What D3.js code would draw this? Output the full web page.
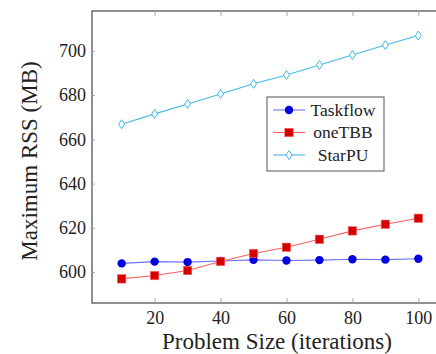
<!DOCTYPE html>
<html>
<head>
<meta charset="utf-8">
<script src="https://cdn.jsdelivr.net/npm/d3@7"></script>
<style>
  body { margin: 0; background: #fff; }
</style>
</head>
<body>
<div id="chart"></div>
<script>
// data
var sizes = [10, 20, 30, 40, 50, 60, 70, 80, 90, 100];
var taskflow = [603.9, 604.7, 604.5, 605.0, 605.5, 605.2, 605.4, 605.8, 605.6, 606.0];
var onetbb = [596.9, 598.4, 600.7, 604.8, 608.4, 611.2, 614.8, 618.6, 621.6, 624.3];
var starpu = [666.8, 671.5, 676.0, 680.5, 685.1, 689.1, 693.6, 698.1, 702.6, 706.9];
var xTicks = [20, 40, 60, 80, 100];
var yTicks = [600, 620, 640, 660, 680, 700];

var serif = "'Liberation Serif', 'Times New Roman', serif";

var svgWidth = 436;
var svgHeight = 354;

var margin = { top: 11, left: 92 };
var width = 356;
var height = 292;

var svg = d3.select("#chart")
  .append("svg")
  .attr("width", svgWidth)
  .attr("height", svgHeight);

var chartGroup = svg.append("g")
  .attr("transform", `translate(${margin.left}, ${margin.top})`);

// scales (pgfplots style 10% enlarged limits)
var xScale = d3.scaleLinear().domain([1, 109]).range([0, width]);
var yScale = d3.scaleLinear().domain([586, 718]).range([height, 0]);

// axes frame
chartGroup.append("rect")
  .attr("width", width)
  .attr("height", height)
  .attr("fill", "none")
  .attr("stroke", "#555")
  .attr("stroke-width", 1.3);

// inner ticks, bottom and top
var bottomAxis = d3.axisBottom(xScale).tickValues(xTicks).tickSize(-5).tickPadding(8);
chartGroup.append("g")
  .attr("transform", `translate(0, ${height})`)
  .call(bottomAxis)
  .call(g => g.select(".domain").remove())
  .call(g => g.selectAll("line").attr("stroke", "#aaa"))
  .call(g => g.selectAll("text").attr("font-size", 18).attr("fill", "#222")
    .style("font-family", serif));

var topAxis = d3.axisTop(xScale).tickValues(xTicks).tickSize(-5).tickFormat("");
chartGroup.append("g")
  .call(topAxis)
  .call(g => g.select(".domain").remove())
  .call(g => g.selectAll("line").attr("stroke", "#aaa"));

var leftAxis = d3.axisLeft(yScale).tickValues(yTicks).tickSize(-3).tickPadding(6);
chartGroup.append("g")
  .call(leftAxis)
  .call(g => g.select(".domain").remove())
  .call(g => g.selectAll("line").attr("stroke", "#aaa"))
  .call(g => g.selectAll("text").attr("font-size", 18).attr("fill", "#222")
    .style("font-family", serif));

// axis labels
svg.append("text")
  .attr("x", 277)
  .attr("y", 349)
  .attr("text-anchor", "middle")
  .attr("font-size", 23)
  .attr("fill", "#222")
  .style("font-family", serif)
  .text("Problem Size (iterations)");

svg.append("text")
  .attr("transform", "rotate(-90)")
  .attr("x", -161)
  .attr("y", 37)
  .attr("text-anchor", "middle")
  .attr("font-size", 23)
  .attr("fill", "#222")
  .style("font-family", serif)
  .text("Maximum RSS (MB)");

var series = [
  { name: "Taskflow", values: taskflow, line: "#7070ff", mark: "#0000e0", shape: "circle" },
  { name: "oneTBB", values: onetbb, line: "#ff6060", mark: "#d40000", shape: "square" },
  { name: "StarPU", values: starpu, line: "#45b8e6", mark: "#45b8e6", shape: "diamond" }
];

function drawMarker(g, s, x, y) {
  if (s.shape === "circle") {
    g.append("circle").attr("cx", x).attr("cy", y).attr("r", 4.2)
      .attr("fill", s.mark);
  } else if (s.shape === "square") {
    g.append("rect").attr("x", x - 4.2).attr("y", y - 4.2)
      .attr("width", 8.4).attr("height", 8.4)
      .attr("fill", s.mark).attr("stroke", "#ff6060").attr("stroke-width", 0.6);
  } else {
    g.append("path")
      .attr("d", `M${x},${y - 4.5}L${x + 3},${y}L${x},${y + 4.5}L${x - 3},${y}Z`)
      .attr("fill", "#fff").attr("stroke", s.mark).attr("stroke-width", 1);
  }
}

var line = d3.line()
  .x((d, i) => xScale(sizes[i]))
  .y(d => yScale(d));

series.forEach(function(s) {
  chartGroup.append("path")
    .datum(s.values)
    .attr("d", line)
    .attr("fill", "none")
    .attr("stroke", s.line)
    .attr("stroke-width", 1.1);
  var mg = chartGroup.append("g");
  s.values.forEach(function(v, i) {
    drawMarker(mg, s, xScale(sizes[i]), yScale(v));
  });
});

// legend
var legend = svg.append("g").attr("transform", "translate(267, 97)");
legend.append("rect")
  .attr("width", 117)
  .attr("height", 74)
  .attr("fill", "#fff")
  .attr("stroke", "#555")
  .attr("stroke-width", 1);

series.forEach(function(s, i) {
  var y = 13 + i * 22.5;
  legend.append("line")
    .attr("x1", 6).attr("x2", 38)
    .attr("y1", y).attr("y2", y)
    .attr("stroke", s.line).attr("stroke-width", 1.1);
  drawMarker(legend, s, 22, y);
  legend.append("text")
    .attr("x", 76)
    .attr("y", y + 5.5)
    .attr("text-anchor", "middle")
    .attr("font-size", 17.5)
    .attr("fill", "#222")
    .style("font-family", serif)
    .text(s.name);
});
</script>
</body>
</html>
